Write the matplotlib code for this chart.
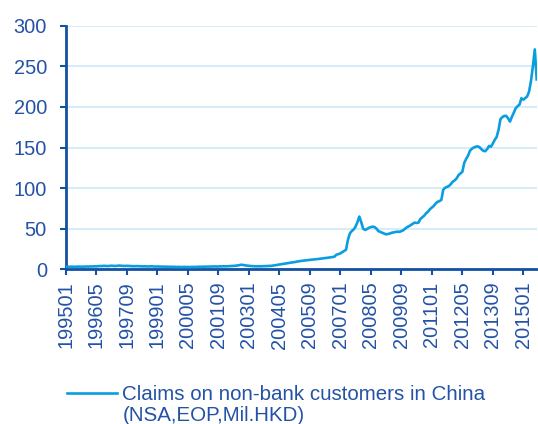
import matplotlib
matplotlib.use("Agg")
import matplotlib.pyplot as plt
import numpy as np

plt.rcParams['font.family'] = ['Liberation Sans', 'DejaVu Sans']

# Monthly values, 1995-01 .. 2015-08 (Mil. HKD, chart scale)
y1995 = [3.0, 3.1, 3.0, 3.2, 3.1, 3.0, 3.2, 3.3, 3.2, 3.1, 3.3, 3.4]
y1996 = [3.3, 3.5, 3.4, 3.6, 3.5, 3.8, 4.0, 3.9, 4.2, 4.0, 3.9, 4.1]
y1997 = [4.3, 4.1, 4.0, 4.2, 4.5, 4.3, 4.1, 4.0, 4.2, 4.1, 3.9, 3.8]
y1998 = [3.7, 3.9, 3.8, 3.6, 3.7, 3.5, 3.6, 3.4, 3.5, 3.6, 3.4, 3.3]
y1999 = [3.4, 3.3, 3.2, 3.3, 3.1, 3.2, 3.0, 3.1, 2.9, 3.0, 2.8, 2.9]
y2000 = [2.8, 2.7, 2.9, 2.8, 2.6, 2.7, 2.8, 2.9, 2.8, 3.0, 3.1, 3.0]
y2001 = [3.2, 3.1, 3.3, 3.2, 3.4, 3.3, 3.5, 3.4, 3.3, 3.6, 3.5, 3.7]
y2002 = [3.6, 3.7, 3.8, 3.9, 4.1, 4.3, 4.6, 5.0, 5.6, 5.2, 4.8, 4.5]
y2003 = [4.2, 4.0, 3.8, 3.7, 3.6, 3.7, 3.6, 3.7, 3.8, 3.9, 4.0, 4.0]
y2004 = [4.2, 4.6, 5.0, 5.4, 5.8, 6.1, 6.5, 6.9, 7.3, 7.8, 8.1, 8.4]
y2005 = [8.8, 9.3, 9.7, 10.1, 10.4, 10.7, 11.0, 11.3, 11.5, 11.8, 12.0, 12.3]
y2006 = [12.5, 12.8, 13.0, 13.3, 13.6, 13.9, 14.2, 14.5, 15.0, 15.6, 18.0, 18.6]
y2007 = [19.5, 21.0, 22.5, 24.0, 36.0, 44.0, 47.0, 49.0, 52.5, 58.0, 65.0, 58.0]
y2008 = [50.0, 48.5, 49.5, 51.0, 52.0, 52.5, 52.0, 50.0, 47.0, 46.0, 45.0, 44.0]
y2009 = [43.0, 43.5, 44.0, 45.0, 45.5, 46.0, 46.4, 46.0, 47.0, 48.0, 50.0, 51.8]
y2010 = [53.0, 54.5, 56.0, 57.5, 57.0, 57.5, 62.0, 64.0, 66.0, 69.0, 71.0, 74.0]
y2011 = [76.0, 78.0, 81.0, 83.0, 84.0, 85.5, 98.0, 100.5, 101.5, 102.7, 105.0, 108.0]
y2012 = [109.5, 112.0, 116.0, 118.0, 120.0, 131.0, 136.0, 140.0, 146.0, 148.5, 150.0, 151.0]
y2013 = [151.5, 150.5, 148.0, 146.0, 145.5, 148.0, 152.0, 151.0, 155.0, 159.5, 163.0, 172.0]
y2014 = [185.0, 187.5, 189.0, 189.0, 186.0, 182.0, 188.0, 193.0, 198.5, 201.0, 203.0, 210.8]
y2015 = [209.0, 211.0, 213.0, 219.0, 232.0, 250.0, 271.0, 234.0]

values = (y1995 + y1996 + y1997 + y1998 + y1999 + y2000 + y2001 + y2002 + y2003 +
          y2004 + y2005 + y2006 + y2007 + y2008 + y2009 + y2010 + y2011 + y2012 +
          y2013 + y2014 + y2015)

start_year, start_month = 1995, 1
labels = []
for i in range(len(values)):
    yy = start_year + (start_month - 1 + i) // 12
    mm = (start_month - 1 + i) % 12 + 1
    labels.append(f"{yy}{mm:02d}")

tick_labels = ["199501", "199605", "199709", "199901", "200005", "200109", "200301",
               "200405", "200509", "200701", "200805", "200909", "201101", "201205",
               "201309", "201501"]
legend_line1 = "Claims on non-bank customers in China"
legend_line2 = "(NSA,EOP,Mil.HKD)"

line_color = '#0a9de0'
axis_color = '#1450a3'
text_color = '#2352a6'
grid_color = '#cdeaf8'

fig = plt.figure(figsize=(5.38, 4.24), dpi=100)
ax = fig.add_axes([0.122, 0.365, 0.877, 0.574])

x = np.arange(len(values))
ax.plot(x, values, color=line_color, lw=1.9, solid_joinstyle='round',
        label=legend_line1, zorder=3)

ax.set_ylim(0, 300)
ax.set_yticks(np.arange(0, 301, 50))
ax.set_xlim(0, len(values) - 0.6)
tick_pos = [labels.index(t) for t in tick_labels]
ax.set_xticks(tick_pos)
ax.set_xticklabels(tick_labels, rotation=90)

ax.grid(axis='y', color=grid_color, lw=1.2, zorder=0)
ax.set_axisbelow(True)
for s in ['top', 'right']:
    ax.spines[s].set_visible(False)
for s in ['left', 'bottom']:
    ax.spines[s].set_color(axis_color)
    ax.spines[s].set_linewidth(2.0)

ax.tick_params(axis='y', colors=axis_color, labelcolor=text_color, labelsize=14.4,
               length=4.5, width=1.5, pad=9)
ax.tick_params(axis='x', colors=axis_color, labelcolor=text_color, labelsize=14.4,
               length=4, width=1.5, pad=5, direction='out')

leg = fig.legend(loc='upper left', bbox_to_anchor=(0.109, 0.112), frameon=False,
                 fontsize=14.8, handlelength=2.45, handletextpad=0.25,
                 labelcolor=text_color, borderaxespad=0)

fig.canvas.draw()
tb = leg.get_texts()[0].get_window_extent(renderer=fig.canvas.get_renderer())
fig.text(tb.x0 / fig.bbox.width, (tb.y0 - 21.7) / fig.bbox.height, legend_line2,
         fontsize=14.8, color=text_color, ha='left', va='bottom')

fig.savefig("out.png", dpi=100)
